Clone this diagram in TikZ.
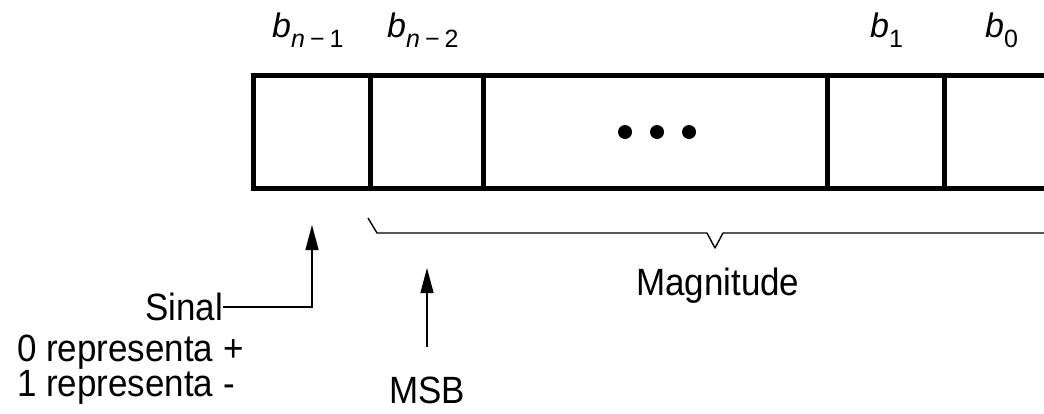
\documentclass[tikz,border=0pt]{standalone}
\usepackage{fontspec}
\setmainfont{Liberation Sans}
\newfontfamily\tallfont[FakeStretch=0.92]{Liberation Sans}
\usetikzlibrary{arrows.meta}
\tikzset{
  cell/.style={draw, line width=5pt, inner sep=0pt, minimum height=113pt},
  lbl/.style={inner sep=0pt, font=\tallfont\fontsize{38}{40}\selectfont},
  blbl/.style={inner sep=0pt, font=\fontsize{34}{36}\selectfont},
  thin/.style={line width=1.4pt},
  arr/.style={thin, -{Triangle[length=25pt,width=13pt]}},
  dot/.style={circle, fill, inner sep=0pt, minimum size=14pt},
}
\newcommand{\bsub}[1]{{\itshape b}{\fontsize{25}{25}\selectfont\raisebox{-10pt}{#1}}}
\newcommand{\msp}{\hspace{0.2em}}
\begin{document}
\begin{tikzpicture}[x=1pt,y=-1pt]
\useasboundingbox (0,0) rectangle (1044,413);
% cells
\node[cell, minimum width=117pt] (c1) at (311.5,131.5) {};
\node[cell, minimum width=113pt] (c2) at (426.5,131.5) {};
\node[cell, minimum width=344pt] (c3) at (655,131.5) {};
\node[cell, minimum width=117pt] (c4) at (885.5,131.5) {};
\node[cell, minimum width=117pt] (c5) at (1002.5,131.5) {};
% dots
\node[dot] (d1) at (625,132) {};
\node[dot] (d2) at (657,132) {};
\node[dot] (d3) at (689,132) {};
% bit labels
\node[blbl, anchor=base west] (bn1) at (272,37) {\bsub{{\itshape n}\msp−\msp1}};
\node[blbl, anchor=base west] (bn2) at (387,37) {\bsub{{\itshape n}\msp−\msp2}};
\node[blbl, anchor=base west] (b1) at (870,37) {\bsub{1}};
\node[blbl, anchor=base west] (b0) at (985,37) {\bsub{0}};
% brace
\coordinate (brL) at (368,218);
\coordinate (brR) at (1050,233);
\draw[thin, line join=round] (brL) -- (377,233) -- (707,233) -- (715,248) -- (723,233) -- (brR);
\node[lbl, anchor=base west] (mag) at (636,295) {Magnitude};
% sinal
\node[lbl, anchor=base east] (sinal) at (223,320) {Sinal};
\node[lbl, anchor=base west] (r0) at (17,361) {0 representa +};
\node[lbl, anchor=base west] (r1) at (17,396) {1 representa -};
\coordinate (sinaltip) at (312,225);
\draw[arr] (sinal.east |- 0,307) -| (sinaltip);
% MSB
\node[lbl, anchor=base] (msb) at (427,403) {MSB};
\coordinate (msbtail) at (427,347);
\coordinate (msbtip) at (427,268);
\draw[arr] (msbtail) -- (msbtip);
\end{tikzpicture}
\end{document}
